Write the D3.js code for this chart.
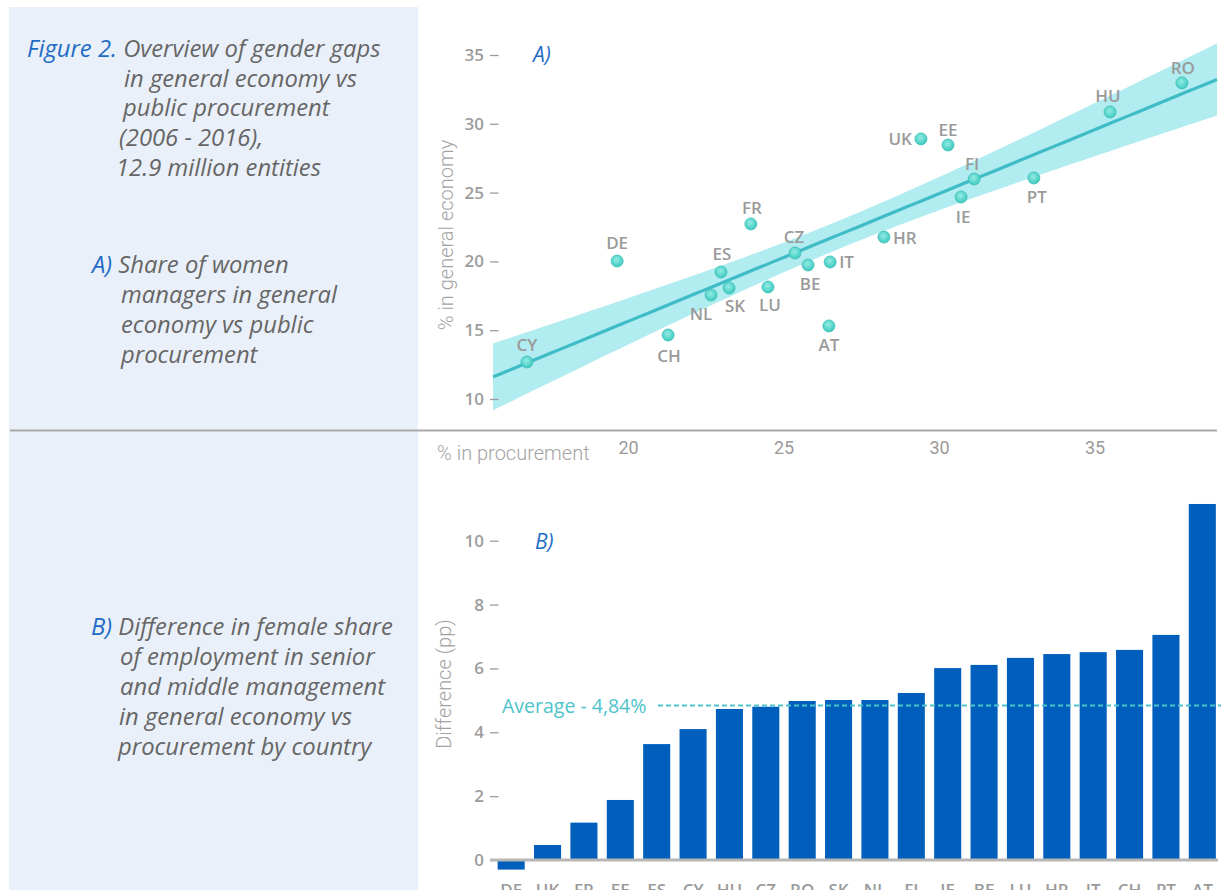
<!DOCTYPE html>
<html>
<head>
<meta charset="utf-8">
<script src="https://cdn.jsdelivr.net/npm/d3@7"></script>
<style>
  html, body { margin: 0; padding: 0; background: #fff; }
  svg { display: block; }
  .side { font-family: "Open Sans", sans-serif; font-style: italic; font-size: 23.8px; fill: #666; }
  .side .key { fill: #1e6cc6; }
  .tick-num { font-family: "Open Sans", sans-serif; font-weight: 600; font-size: 17px; fill: #9c9c9c; }
  .axis-title { font-family: Roboto, sans-serif; font-weight: 300; font-size: 20px; fill: #a3a3a3; }
  .pt-label { font-family: "Open Sans", sans-serif; font-weight: 600; font-size: 17px; fill: #9a9a9a; }
  .panel-tag { font-family: "Open Sans", sans-serif; font-style: italic; font-size: 21px; fill: #1e6cc6; }
</style>
</head>
<body>
<svg id="chart" width="1221" height="890"></svg>
<script>
// ---- Panel A: share of women managers, procurement vs general economy ----
const countries = ["CY","DE","CH","NL","ES","SK","FR","LU","CZ","BE","IT","AT","HR","UK","EE","IE","FI","PT","HU","RO"];
const procurementShare = [16.75,19.65,21.29,22.67,22.99,23.25,23.95,24.50,25.37,25.79,26.50,26.46,28.23,29.42,30.29,30.71,31.13,33.05,35.50,37.81];
const economyShare     = [12.69,20.03,14.65,17.56,19.23,18.07,22.72,18.14,20.61,19.74,19.96,15.31,21.77,28.90,28.46,24.68,25.99,26.06,30.86,32.97];
const scatterXTicks = [20, 25, 30, 35];
const scatterYTicks = [10, 15, 20, 25, 30, 35];

// ---- Panel B: difference in female share (pp), sorted ----
const barCountries = ["DE","UK","FR","EE","ES","CY","HU","CZ","RO","SK","NL","FI","IE","BE","LU","HR","IT","CH","PT","AT"];
const diffPP = [-0.30,0.47,1.17,1.88,3.63,4.10,4.73,4.80,4.98,5.01,5.01,5.23,6.01,6.11,6.33,6.45,6.51,6.58,7.05,11.15];
const barYTicks = [0, 2, 4, 6, 8, 10];
const averageDiff = 4.84;

// t quantile for a 90% confidence band with n-2 = 18 degrees of freedom
const T_90_DF18 = 1.734;

const svg = d3.select("#chart");

// left description panel
svg.append("rect").attr("x", 9).attr("y", 7).attr("width", 409).attr("height", 883).attr("fill", "#eaf0f9");

const side = svg.append("g").attr("class", "side");
function sideLine(x, y, parts) {
  const t = side.append("text").attr("x", x).attr("y", y);
  parts.forEach(p => t.append("tspan").attr("class", p[1] || null).text(p[0]));
}
sideLine(27, 57, [["Figure 2. ", "key"], ["Overview of gender gaps"]]);
sideLine(124, 87, [["in general economy vs"]]);
sideLine(123, 116, [["public procurement"]]);
sideLine(119, 146, [["(2006 - 2016),"]]);
sideLine(116, 176, [["12.9 million entities"]]);

sideLine(92, 273, [["A) ", "key"], ["Share of women"]]);
sideLine(121, 303, [["managers in general"]]);
sideLine(121, 333, [["economy vs public"]]);
sideLine(121, 363, [["procurement"]]);

sideLine(91, 635, [["B) ", "key"], ["Difference in female share"]]);
sideLine(120, 665, [["of employment in senior"]]);
sideLine(120, 695, [["and middle management"]]);
sideLine(119, 725, [["in general economy vs"]]);
sideLine(118, 755, [["procurement by country"]]);

// divider between the panels
svg.append("line").attr("x1", 10).attr("x2", 1217).attr("y1", 430.5).attr("y2", 430.5)
  .attr("stroke", "#a9a9a9").attr("stroke-width", 2);

// ================= Panel A =================
const xs = d3.scaleLinear().domain([20, 35]).range([628, 1094.5]);
const ys = d3.scaleLinear().domain([10, 35]).range([399, 55]);

const pts = countries.map((c, i) => ({ c, x: procurementShare[i], y: economyShare[i] }));

// ordinary least squares fit with confidence band
const n = pts.length;
const mx = d3.mean(pts, d => d.x), my = d3.mean(pts, d => d.y);
const sxx = d3.sum(pts, d => (d.x - mx) ** 2);
const sxy = d3.sum(pts, d => (d.x - mx) * (d.y - my));
const slope = sxy / sxx, intercept = my - slope * mx;
const sse = d3.sum(pts, d => (d.y - (intercept + slope * d.x)) ** 2);
const s = Math.sqrt(sse / (n - 2));
const fitX0 = xs.invert(493), fitX1 = xs.invert(1217);
const fitPts = d3.range(0, 101).map(k => {
  const x = fitX0 + (fitX1 - fitX0) * k / 100;
  const yhat = intercept + slope * x;
  const half = T_90_DF18 * s * Math.sqrt(1 / n + (x - mx) ** 2 / sxx);
  return { x, yhat, lo: yhat - half, hi: yhat + half };
});

svg.append("path").datum(fitPts)
  .attr("d", d3.area().x(d => xs(d.x)).y0(d => ys(d.lo)).y1(d => ys(d.hi)))
  .attr("fill", "#b1ecf0");
svg.append("path").datum(fitPts)
  .attr("d", d3.line().x(d => xs(d.x)).y(d => ys(d.yhat)))
  .attr("fill", "none").attr("stroke", "#3fbcc6").attr("stroke-width", 3.2);

// y axis
const yAxisA = svg.append("g").attr("transform", "translate(499,0)")
  .call(d3.axisLeft(ys).tickValues(scatterYTicks).tickSize(9).tickPadding(6));
yAxisA.select(".domain").remove();
yAxisA.selectAll(".tick line").attr("stroke", "#9c9c9c").attr("stroke-width", 1.3).attr("x2", -9).attr("x1", -0.5);
yAxisA.selectAll(".tick text").attr("class", "tick-num").attr("font-family", null).attr("font-size", null).attr("fill", null);

svg.append("text").attr("class", "axis-title")
  .attr("transform", "translate(453,235) rotate(-90)").attr("text-anchor", "middle")
  .text("% in general economy");

// x axis (numbers only, below the divider)
const xAxisA = svg.append("g").attr("transform", "translate(0,441)")
  .call(d3.axisBottom(xs).tickValues(scatterXTicks).tickSize(0).tickPadding(0));
xAxisA.select(".domain").remove();
xAxisA.selectAll(".tick text")
  .attr("font-family", "Roboto, sans-serif").attr("font-size", 18).attr("fill", "#9a9a9a");
svg.append("text").attr("class", "axis-title").attr("x", 437).attr("y", 460).text("% in procurement");

svg.append("text").attr("class", "panel-tag").attr("x", 533).attr("y", 62).text("A)");

// dots
const defs = svg.append("defs");
const grad = defs.append("radialGradient").attr("id", "dotFill").attr("cx", "45%").attr("cy", "40%").attr("r", "60%");
grad.append("stop").attr("offset", "0%").attr("stop-color", "#93ece4");
grad.append("stop").attr("offset", "100%").attr("stop-color", "#3cc9bf");

svg.append("g").selectAll("circle").data(pts).join("circle")
  .attr("cx", d => xs(d.x)).attr("cy", d => ys(d.y)).attr("r", 6)
  .attr("fill", "url(#dotFill)").attr("stroke", "#3bbfb6").attr("stroke-width", 0.8);

// label placement around each dot: [dx, dy, anchor]
const placement = {
  CY: [0, -17, "middle"], DE: [0, -18, "middle"], CH: [1, 20, "middle"], NL: [-10, 19, "middle"],
  ES: [1, -18, "middle"], SK: [6, 18, "middle"], FR: [1, -16, "middle"], LU: [2, 18, "middle"],
  CZ: [-1, -17, "middle"], BE: [2, 19, "middle"], IT: [9, 0, "start"], AT: [0, 19, "middle"],
  HR: [9, 0, "start"], UK: [-9, 0, "end"], EE: [0, -15, "middle"], IE: [2, 19, "middle"],
  FI: [-2, -15, "middle"], PT: [3, 18, "middle"], HU: [-2, -16, "middle"], RO: [1, -15, "middle"]
};
svg.append("g").selectAll("text").data(pts).join("text")
  .attr("class", "pt-label")
  .attr("x", d => xs(d.x) + placement[d.c][0])
  .attr("y", d => ys(d.y) + placement[d.c][1])
  .attr("text-anchor", d => placement[d.c][2])
  .attr("dominant-baseline", "central")
  .text(d => d.c);

// ================= Panel B =================
const xb = d3.scaleBand().domain(barCountries).range([493, 1220.5]).paddingInner(0.256).paddingOuter(0.128);
const yb = d3.scaleLinear().domain([0, 10]).range([860, 540.7]);

const yAxisB = svg.append("g").attr("transform", "translate(499,0)")
  .call(d3.axisLeft(yb).tickValues(barYTicks).tickSize(9).tickPadding(6));
yAxisB.select(".domain").remove();
yAxisB.selectAll(".tick line").attr("stroke", "#9c9c9c").attr("stroke-width", 1.3).attr("x2", -9).attr("x1", -0.5);
yAxisB.selectAll(".tick text").attr("class", "tick-num").attr("font-family", null).attr("font-size", null).attr("fill", null);

svg.append("text").attr("class", "axis-title")
  .attr("transform", "translate(451,684) rotate(-90)").attr("text-anchor", "middle")
  .text("Difference (pp)");

svg.append("text").attr("class", "panel-tag").attr("x", 535).attr("y", 549).text("B)");

svg.append("g").selectAll("rect").data(barCountries.map((c, i) => ({ c, v: diffPP[i] }))).join("rect")
  .attr("x", d => xb(d.c)).attr("width", xb.bandwidth())
  .attr("y", d => Math.min(yb(d.v), yb(0)))
  .attr("height", d => Math.abs(yb(d.v) - yb(0)))
  .attr("fill", "#005ebd");

// zero baseline
svg.append("line").attr("x1", 490).attr("x2", 1218).attr("y1", yb(0)).attr("y2", yb(0))
  .attr("stroke", "#b7b7b7").attr("stroke-width", 3);

// average line
svg.append("line").attr("x1", 658).attr("x2", 1221).attr("y1", yb(averageDiff)).attr("y2", yb(averageDiff))
  .attr("stroke", "#4cc3cb").attr("stroke-width", 2).attr("stroke-dasharray", "5,3");
svg.append("text").attr("x", 502).attr("y", yb(averageDiff)).attr("dominant-baseline", "central")
  .attr("font-family", "\"Open Sans\", sans-serif").attr("font-size", 19.5).attr("fill", "#4cc3cb")
  .text("Average - " + d3.format(".2f")(averageDiff).replace(".", ",") + "%");

// country labels under the bars
const xAxisB = svg.append("g").attr("transform", `translate(0,${yb(0)})`)
  .call(d3.axisBottom(xb).tickSize(0).tickPadding(24));
xAxisB.select(".domain").remove();
xAxisB.selectAll(".tick text").attr("class", "pt-label").attr("font-family", null).attr("font-size", null).attr("fill", null);
</script>
</body>
</html>
